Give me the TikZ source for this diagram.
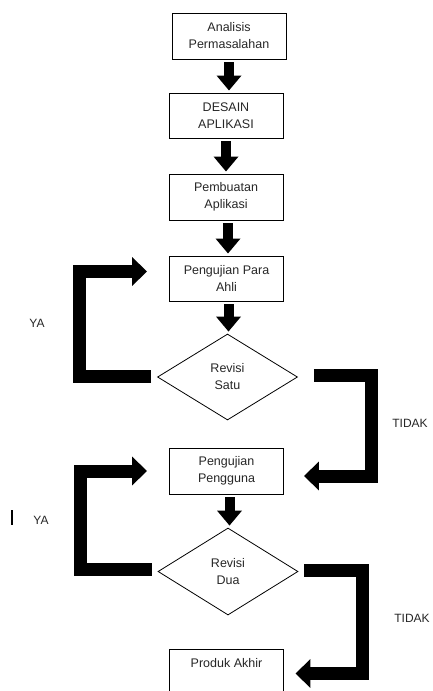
\documentclass[tikz,border=0pt]{standalone}
\usepackage{fontspec}
\setmainfont{Liberation Sans}
\usetikzlibrary{shapes.geometric,arrows.meta,calc}
\begin{document}
\begin{tikzpicture}[x=1pt,y=-1pt,
  font=\fontsize{12.5}{17}\selectfont,
  box/.style={draw=black,line width=0.9pt,rectangle,minimum width=114pt,minimum height=46pt,align=center,inner sep=2pt,text=black!85},
  dec/.style={draw=black,line width=0.8pt,diamond,minimum width=140pt,minimum height=86pt,align=center,inner sep=0pt,text=black!85},
  downarrow/.style={line width=10pt,-{Triangle[width=24pt,length=15pt]},shorten <=3pt,shorten >=2pt},
  bracket/.style={line width=13pt,line join=miter,-{Triangle[width=28pt,length=15pt]}},
  lbl/.style={text=black!85,inner sep=0pt,font=\fontsize{12}{14}\selectfont}]
\useasboundingbox (0,0) rectangle (432,691);
\clip (0,0) rectangle (432,691);

\node[box] (b1) at (229,36) {Analisis\\Permasalahan};
\node[box,minimum height=45pt] (b2) at (226,115.5) {DESAIN\\APLIKASI};
\node[box] (b3) at (226,197) {Pembuatan\\Aplikasi};
\node[box,minimum height=45pt] (b4) at (226.5,278.5) {Pengujian Para\\Ahli};
\node[dec] (d1) at (227.5,377) {Revisi\\Satu};
\node[box] (b5) at (226.5,471) {Pengujian\\Pengguna};
\node[dec,minimum height=87pt] (d2) at (228,571.5) {Revisi\\Dua};
\node[box,anchor=north,minimum height=0pt,text height=9pt,text depth=38pt,inner ysep=9pt] (b6) at (226.5,649) {Produk Akhir};

\draw[downarrow] (b1.south) -- (b1.south |- b2.north);
\draw[downarrow] (b2.south) -- (b2.south |- b3.north);
\draw[downarrow] ([xshift=2pt]b3.south) -- ([xshift=2pt]b3.south |- b4.north);
\draw[downarrow] ([xshift=2pt]b4.south) -- ([xshift=2pt]b4.south |- d1.north);
\draw[downarrow] ([xshift=3pt]b5.south) -- ([xshift=3pt]b5.south |- d2.north);

% YA loop 1
\draw[bracket] ([xshift=-6pt,yshift=1pt]d1.west) -- ++(-72,0) |- ([xshift=-22pt,yshift=7pt]b4.west);
% TIDAK loop 1
\draw[bracket] ([xshift=16pt,yshift=2pt]d1.east) -- ++(57.5,0) |- ([xshift=20pt,yshift=-5pt]b5.east);
% YA loop 2
\draw[bracket] ([xshift=-6pt,yshift=2.5pt]d2.west) -- ++(-71,0) |- ([xshift=-22pt]b5.west);
% TIDAK loop 2
\draw[bracket] ([xshift=6pt,yshift=1pt]d2.east) -- ++(58.5,0) |- ([xshift=11.5pt,yshift=-24.5pt]b6.north east);

\node[lbl] (ya1) at (37,323) {YA};
\node[lbl] (t1) at (410,423) {TIDAK};
\node[lbl] (ya2) at (41,520) {YA};
\node[lbl] (t2) at (412,618) {TIDAK};
\coordinate (m1) at (12,510);
\coordinate (m2) at (12,525);
\draw[line width=1.3pt] (m1) -- (m2);
\end{tikzpicture}
\end{document}
